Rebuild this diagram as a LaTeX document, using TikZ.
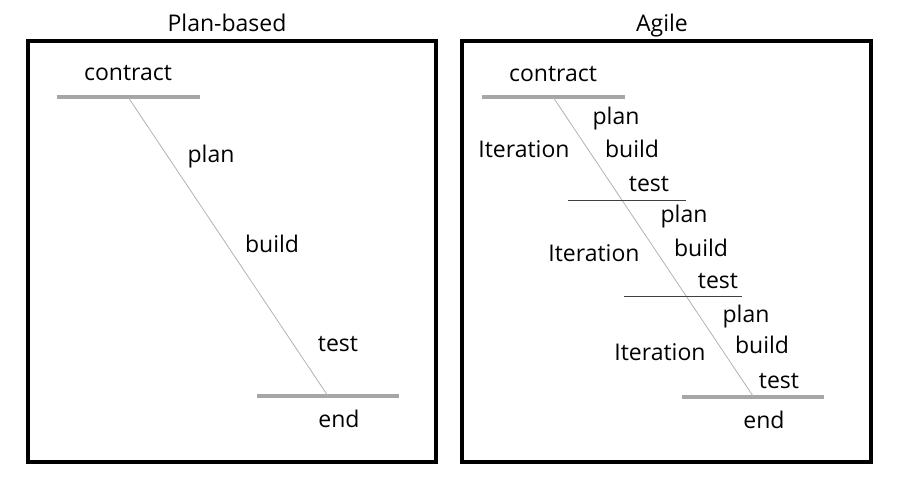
\documentclass[tikz,border=0pt]{standalone}
\usepackage{fontspec}
\setmainfont{Open Sans}
\begin{document}
\begin{tikzpicture}[x=1pt,y=-1pt,
  lbl/.style={anchor=base,inner sep=0pt,font=\fontsize{23}{27}\selectfont},
  panel/.style={draw=black,line width=3.2pt},
  bar/.style={draw=black!35,line width=4pt},
  diag/.style={draw=black!30,line width=0.8pt},
  sep/.style={draw=black!75,line width=0.9pt}]
\useasboundingbox (0,0) rectangle (900,483);
% ---------- Plan-based ----------
\node[lbl] (t1) at (227,31) {Plan-based};
\draw[panel] (28,41) rectangle (436,462);
\coordinate (pa1) at (57,97);
\coordinate (pa2) at (200,97);
\coordinate (ps) at (128,97);
\coordinate (pb1) at (257,396);
\coordinate (pb2) at (399,396);
\coordinate (pe) at (328,396);
\draw[bar] (pa1) -- (pa2);
\draw[bar] (pb1) -- (pb2);
\draw[diag] (ps) -- (pe);
\node[lbl] (pcon) at (128,80) {contract};
\node[lbl] (pplan) at (211,162) {plan};
\node[lbl] (pbuild) at (272,252) {build};
\node[lbl] (ptest) at (338,351) {test};
\node[lbl] (pend) at (339,427) {end};
% ---------- Agile ----------
\node[lbl] (t2) at (662,31) {Agile};
\draw[panel] (462,41) rectangle (871,462);
\coordinate (aa1) at (482,97);
\coordinate (aa2) at (625,97);
\coordinate (as) at (553,97);
\coordinate (ab1) at (682,397);
\coordinate (ab2) at (824,397);
\coordinate (ae) at (753,396);
\coordinate (s1a) at (568,200);
\coordinate (s1b) at (686,200);
\coordinate (s2a) at (624,296);
\coordinate (s2b) at (742,296);
\draw[bar] (aa1) -- (aa2);
\draw[bar] (ab1) -- (ab2);
\draw[diag] (as) -- (ae);
\draw[sep] (s1a) -- (s1b);
\draw[sep] (s2a) -- (s2b);
\node[lbl] (acon) at (553,81) {contract};
\node[lbl] (aplan1) at (616,124) {plan};
\node[lbl] (ait1) at (524,157) {Iteration};
\node[lbl] (abuild1) at (632,157) {build};
\node[lbl] (atest1) at (649,191) {test};
\node[lbl] (aplan2) at (684,222) {plan};
\node[lbl] (ait2) at (594,261) {Iteration};
\node[lbl] (abuild2) at (701,256) {build};
\node[lbl] (atest2) at (718,288) {test};
\node[lbl] (aplan3) at (746,322) {plan};
\node[lbl] (ait3) at (660,360) {Iteration};
\node[lbl] (abuild3) at (762,353) {build};
\node[lbl] (atest3) at (779,388) {test};
\node[lbl] (aend) at (764,428) {end};
\end{tikzpicture}
\end{document}
